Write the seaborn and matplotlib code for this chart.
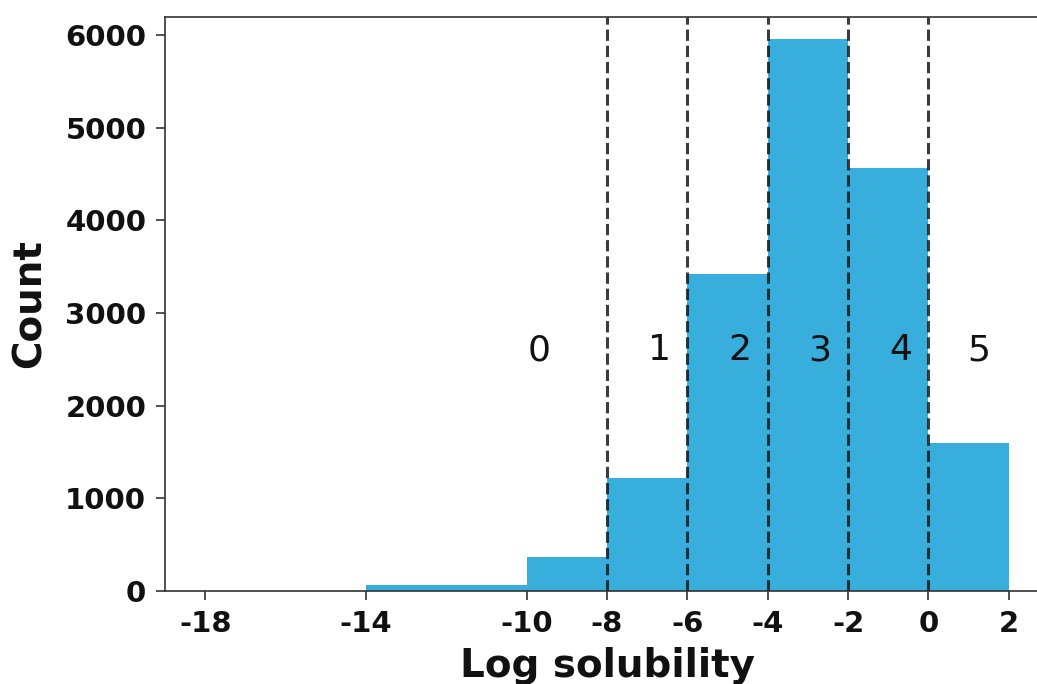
import numpy as np
import pandas as pd
import matplotlib
matplotlib.use("Agg")
import matplotlib.pyplot as plt
import seaborn as sns

# Data
bin_edges = [-18, -14, -10, -8, -6, -4, -2, 0, 2]
bin_counts = [0, 65, 365, 1220, 3420, 5955, 4565, 1600]
class_bounds = [-8, -6, -4, -2, 0]
class_labels = ["0", "1", "2", "3", "4", "5"]
class_label_x = [-9.7, -6.7, -4.7, -2.7, -0.7, 1.25]
class_label_y = 2600
xticks = [-18, -14, -10, -8, -6, -4, -2, 0, 2]
yticks = [0, 1000, 2000, 3000, 4000, 5000, 6000]

centers = [(a + b) / 2 for a, b in zip(bin_edges[:-1], bin_edges[1:])]
df = pd.DataFrame({"logS": centers, "count": bin_counts})

sns.set_style("ticks")
plt.rcParams['font.family'] = ['DejaVu Sans']

W, H = 1037, 684
fig = plt.figure(figsize=(W / 100, H / 100), dpi=100)
ax = fig.add_axes([165 / W, (H - 591) / H, (1049 - 165) / W, (591 - 17) / H])

sns.histplot(data=df, x="logS", weights="count", bins=bin_edges, ax=ax,
             color="#38aedd", alpha=1.0, edgecolor="none", linewidth=0)

for b in class_bounds:
    ax.axvline(b, color="#1a1a1a", linestyle="--", linewidth=2.2, alpha=0.85)

for lx, lab in zip(class_label_x, class_labels):
    ax.text(lx, class_label_y, lab, fontsize=26, ha="center", va="center", color="#111111")

ax.set_xlim(-19, 3)
ax.set_ylim(0, 6194)
ax.set_xticks(xticks)
ax.set_xticklabels([str(t) for t in xticks])
ax.set_yticks(yticks)
ax.tick_params(axis="both", labelsize=21, width=1.2, length=6.5, pad=7,
               color="#333333", labelcolor="#111111")
for lab in ax.get_xticklabels() + ax.get_yticklabels():
    lab.set_fontweight("bold")
ax.set_xlabel("Log solubility", fontsize=28, fontweight="bold", color="#111111", labelpad=7)
ax.set_ylabel("Count", fontsize=28, fontweight="bold", color="#111111", labelpad=12)
for s in ax.spines.values():
    s.set_color("#333333")
    s.set_linewidth(1.2)

fig.savefig("out.png", dpi=100)
